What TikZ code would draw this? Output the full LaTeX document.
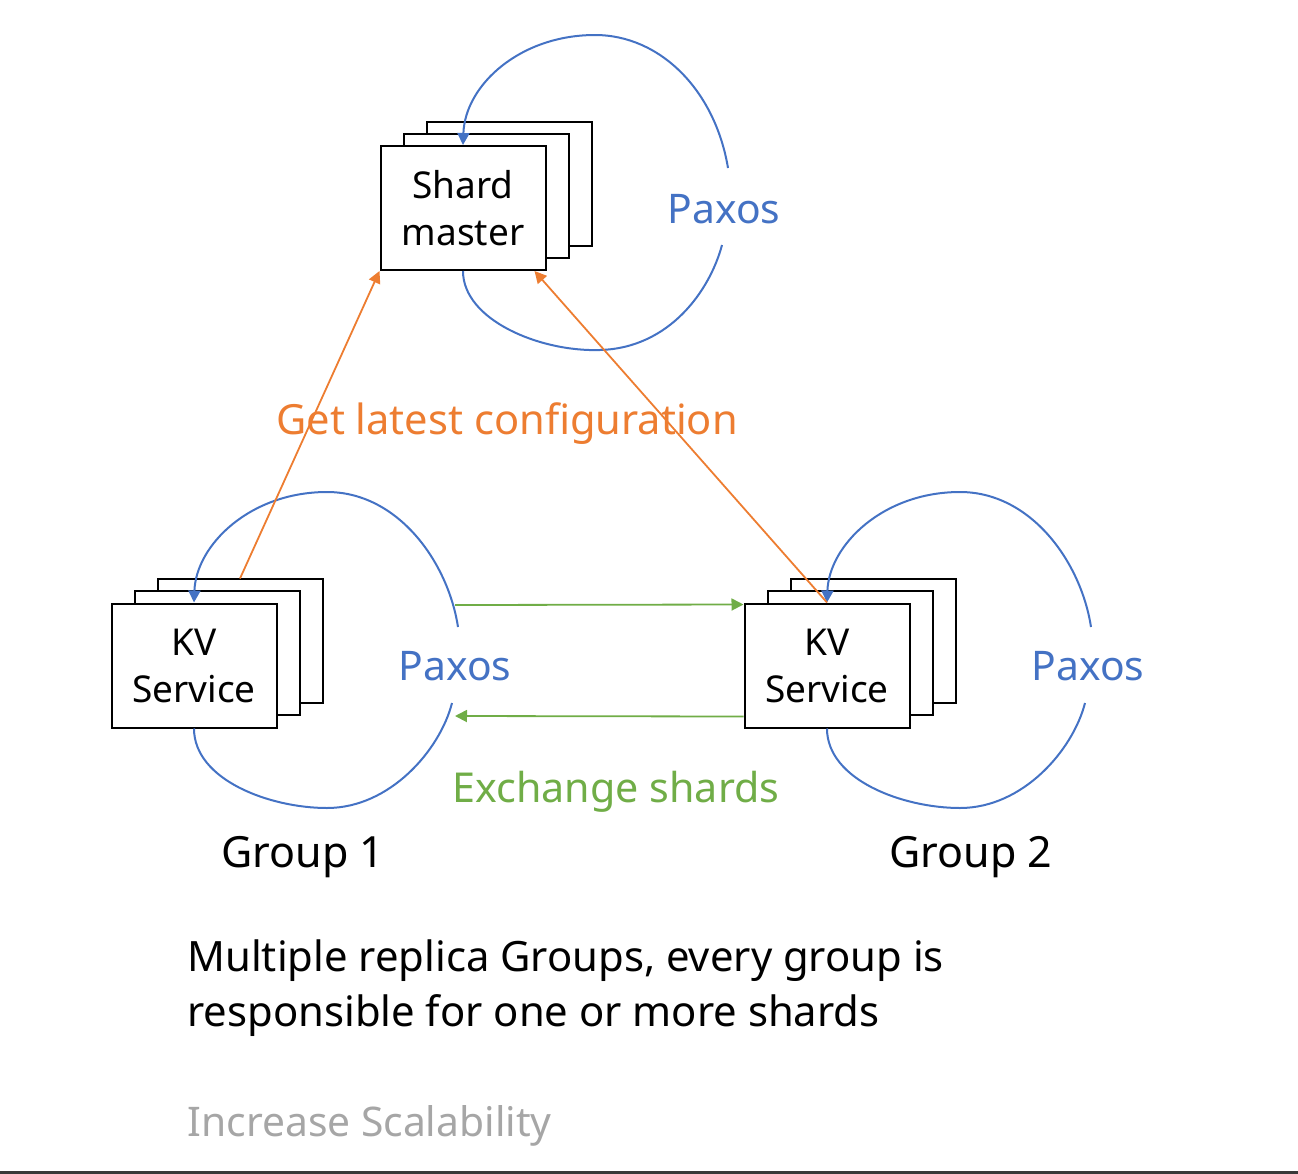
\documentclass[tikz,border=0pt]{standalone}
\usepackage{fontspec}
\setmainfont{Noto Sans}
\usepackage{xcolor}
\usetikzlibrary{arrows.meta}

\definecolor{paxosblue}{HTML}{4472C4}
\definecolor{cfgorange}{HTML}{ED7D31}
\definecolor{shardgreen}{HTML}{70AD47}
\definecolor{notegray}{HTML}{A6A6A6}

\tikzset{
  replica/.style={draw=black,line width=1pt,fill=white,minimum width=82.5pt,
    minimum height=62pt,inner sep=0pt,align=center,
    font=\fontsize{18.5}{23.5}\selectfont},
  paxosline/.style={paxosblue,line width=1pt},
  paxoslabel/.style={text=paxosblue,inner sep=0pt,font=\fontsize{20.4}{24}\selectfont},
  cfgline/.style={cfgorange,line width=0.9pt},
  cfglabel/.style={text=cfgorange,inner sep=0pt,font=\fontsize{20.8}{24}\selectfont},
  shardline/.style={shardgreen,line width=0.9pt},
  shardlabel/.style={text=shardgreen,inner sep=0pt,font=\fontsize{20.6}{24}\selectfont},
  grouplabel/.style={inner sep=0pt,font=\fontsize{21.5}{26}\selectfont},
  note/.style={inner sep=0pt,align=left,anchor=west,font=\fontsize{20.9}{27.5}\selectfont}
}

\begin{document}
\begin{tikzpicture}[x=0.5pt,y=-0.5pt,>={Triangle[length=6pt,width=6pt]}]
\useasboundingbox (0,0) rectangle (1298,1174);

    % shard master, three replicas
    \node[replica] (sm3) at (509,184) {};
    \node[replica] (sm2) at (486,196) {};
    \node[replica] (sm) at (463,208) {Shard\\master};
    \node[paxoslabel] (pxsm) at (724,209) {Paxos};
    \coordinate (smlo) at (722,245);
    \coordinate (smhi) at (728,168);
    \draw[paxosline] (sm.south) .. controls (463,320) and (540,352) .. (600,350)
        .. controls (670,348) and (710,290) .. (smlo);
    \draw[paxosline,->] (smhi) .. controls (715,90) and (660,35) .. (595,35)
        .. controls (520,35) and (465,85) .. (sm.north);

    % replica groups
    \foreach \g/\dx/\gx in {1/0/303,2/633/338}{
    \begin{scope}[shift={(\dx,0)}]
        \node[replica] (kv\g b) at (240,641) {};
        \node[replica] (kv\g a) at (217,653) {};
        \node[replica] (kv\g) at (194,665.5) {KV\\Service};
        \node[paxoslabel] (px\g) at (455,666) {Paxos};
        \coordinate (lo\g) at (452,703);
        \coordinate (hi\g) at (458,627);
        \draw[paxosline] (kv\g.south) .. controls (194,780) and (270,808) .. (327,808)
            .. controls (390,808) and (440,750) .. (lo\g);
        \draw[paxosline,->] (hi\g) .. controls (448,562) and (398,492) .. (327,492)
            .. controls (250,492) and (196,545) .. (kv\g.north);
        \node[grouplabel] (grp\g) at (\gx,857) {Group \g};
    \end{scope}
    }

    % configuration requests
    \draw[cfgline,->] ([xshift=23pt,yshift=12pt]kv1.north) -- (sm.south west);
    \draw[cfgline,->] (kv2.north) -- ([xshift=-6pt]sm.south east);
    \node[cfglabel] (cfg) at (507,424) {Get latest configuration};

    % shard exchange
    \coordinate (ex1) at (455,605);
    \coordinate (ex2) at (455,716);
    \draw[shardline,->] (ex1) -- ([yshift=-1pt]kv2.north west);
    \draw[shardline,->] ([yshift=6pt]kv2.south west) -- (ex2);
    \node[shardlabel] (exch) at (616,792) {Exchange shards};

    % notes
    \node[note] (multi) at (187,988.5) {Multiple replica Groups, every group is\\responsible for one or more shards};
    \node[note,text=notegray,font=\fontsize{20.4}{24}\selectfont] (scal) at (187,1126) {Increase Scalability};
    \draw[line width=1.5pt,black!78] (0,1172.5) -- (1298,1172.5);
\end{tikzpicture}
\end{document}
